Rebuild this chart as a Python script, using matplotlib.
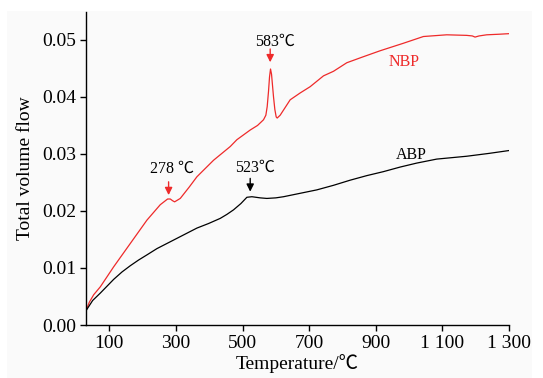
import matplotlib
matplotlib.use("Agg")
import matplotlib.pyplot as plt
from matplotlib.patches import Rectangle

plt.rcParams['font.family'] = ['Liberation Serif', 'Noto Sans CJK SC', 'DejaVu Serif']

# Data
nbp_x = [30, 40, 53, 73, 113, 163, 213, 253, 275, 283, 290, 296, 313, 340, 363, 413, 463,
         483, 523, 545, 563, 570, 574, 578, 581, 584, 587, 590, 593, 597, 601, 604, 613, 643,
         673, 703, 743, 773, 813, 860, 913, 982, 1043, 1113, 1173, 1190, 1198, 1210, 1233,
         1270, 1300]
nbp_y = [0.0025, 0.0040, 0.0053, 0.0067, 0.0102, 0.0143, 0.0184, 0.0211, 0.0221, 0.0221,
         0.0218, 0.0216, 0.0222, 0.0242, 0.0260, 0.0289, 0.0313, 0.0325, 0.0342, 0.0350,
         0.0360, 0.0368, 0.0383, 0.0410, 0.0435, 0.0449, 0.0440, 0.0420, 0.0400, 0.0378,
         0.0365, 0.0363, 0.0368, 0.0395, 0.0407, 0.0418, 0.0437, 0.0445, 0.0460, 0.0470,
         0.0481, 0.0494, 0.0506, 0.0509, 0.0508, 0.0507, 0.0505, 0.0507, 0.0509, 0.0510,
         0.0511]

abp_x = [30, 50, 73, 93, 113, 138, 163, 188, 213, 243, 273, 303, 333, 363, 398, 433, 453,
         473, 495, 513, 528, 553, 573, 600, 623, 673, 723, 773, 823, 873, 923, 973, 1023,
         1083, 1173, 1240, 1300]
abp_y = [0.0025, 0.0043, 0.0056, 0.0068, 0.0080, 0.0093, 0.0104, 0.0114, 0.0123, 0.0134,
         0.0143, 0.0152, 0.0161, 0.0170, 0.0178, 0.0187, 0.0194, 0.0202, 0.0213, 0.0224,
         0.0225, 0.0223, 0.0222, 0.0223, 0.0225, 0.0231, 0.0237, 0.0245, 0.0254, 0.0262,
         0.0269, 0.0277, 0.0284, 0.0291, 0.0296, 0.0301, 0.0306]

x_ticks = [100, 300, 500, 700, 900, 1100, 1300]
x_ticklabels = ['100', '300', '500', '700', '900', '1 100', '1 300']
y_ticks = [0.00, 0.01, 0.02, 0.03, 0.04, 0.05]
y_ticklabels = ['0.00', '0.01', '0.02', '0.03', '0.04', '0.05']

RED = '#ee2a2a'

fig = plt.figure(figsize=(5.43, 3.78), dpi=100, facecolor='white')
fig.patches.append(Rectangle((7/543, 0), (532-7)/543, (378-11)/378, transform=fig.transFigure,
                             facecolor='#fafafa', edgecolor='none', zorder=-10))
ax = fig.add_axes([86/543, (378-325)/378, (509-86)/543, (325-12)/378])
ax.set_facecolor('none')

ax.plot(nbp_x, nbp_y, color=RED, lw=0.9)
ax.plot(abp_x, abp_y, color='black', lw=0.9)

ax.set_xlim(30, 1300)
ax.set_ylim(0, 0.0549)
ax.set_xticks(x_ticks)
ax.set_xticklabels(x_ticklabels)
ax.set_yticks(y_ticks)
ax.set_yticklabels(y_ticklabels)
for s in ['top', 'right']:
    ax.spines[s].set_visible(False)
for s in ['left', 'bottom']:
    ax.spines[s].set_linewidth(1.0)
ax.tick_params(direction='out', length=4, width=1.0, labelsize=14, pad=3)

ax.set_xlabel('Temperature/℃', fontsize=14, labelpad=2)
ax.set_ylabel('Total volume flow', fontsize=14, labelpad=6)

# annotations
ann_fs = 11.5
ax.text(289, 0.0274, '278 ℃', ha='center', va='center', fontsize=ann_fs)
ax.annotate('', xy=(278, 0.0223), xytext=(278, 0.0256),
            arrowprops=dict(arrowstyle='-|>', color=RED, lw=1.0, mutation_scale=11))
ax.text(598, 0.0496, '583℃', ha='center', va='center', fontsize=ann_fs)
ax.annotate('', xy=(583, 0.0456), xytext=(583, 0.0489),
            arrowprops=dict(arrowstyle='-|>', color=RED, lw=1.0, mutation_scale=11))
ax.text(538, 0.0275, '523℃', ha='center', va='center', fontsize=ann_fs)
ax.annotate('', xy=(523, 0.0229), xytext=(523, 0.0262),
            arrowprops=dict(arrowstyle='-|>', color='black', lw=1.0, mutation_scale=11))
ax.text(985, 0.0461, 'NBP', ha='center', va='center', fontsize=ann_fs, color=RED)
ax.text(1006, 0.0298, 'ABP', ha='center', va='center', fontsize=ann_fs, color='black')

fig.savefig('out.png', dpi=100, facecolor=fig.get_facecolor())
